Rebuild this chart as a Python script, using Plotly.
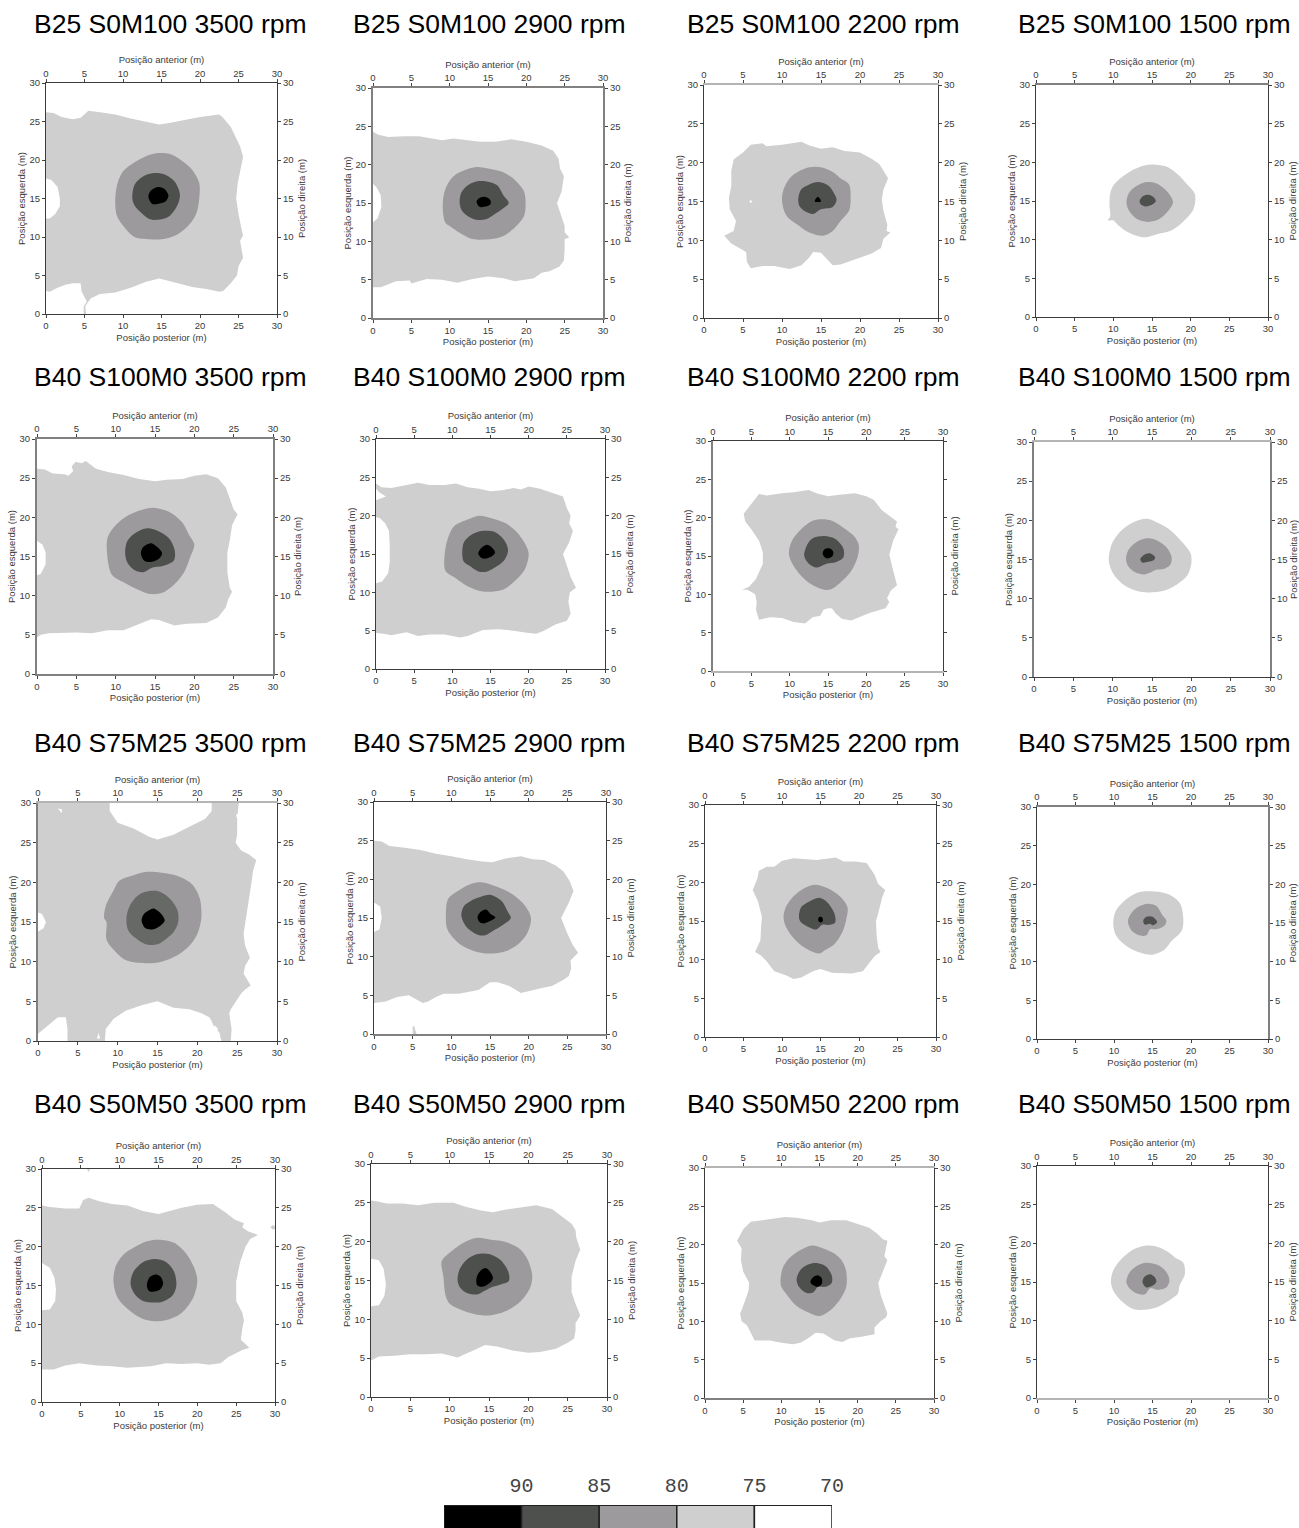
import plotly.graph_objects as go

W, H = 1299, 1528
LEVEL_COLORS = {75: "#cfcfcf", 80: "#9c9a9c", 85: "#4d504d", 90: "#000000"}
LEGEND_LABELS = ["90", "85", "80", "75", "70"]
LEGEND_COLORS = ["#000000", "#4d504d", "#9c9a9c", "#cfcfcf", "#ffffff"]
TICKS = [0, 5, 10, 15, 20, 25, 30]
TITLES = [
    "B25 S0M100 3500 rpm", "B25 S0M100 2900 rpm", "B25 S0M100 2200 rpm", "B25 S0M100 1500 rpm",
    "B40 S100M0 3500 rpm", "B40 S100M0 2900 rpm", "B40 S100M0 2200 rpm", "B40 S100M0 1500 rpm",
    "B40 S75M25 3500 rpm", "B40 S75M25 2900 rpm", "B40 S75M25 2200 rpm", "B40 S75M25 1500 rpm",
    "B40 S50M50 3500 rpm", "B40 S50M50 2900 rpm", "B40 S50M50 2200 rpm", "B40 S50M50 1500 rpm",
]

# ---- contour outlines, in metres (x, y) ----
p11_75 = [(0,26.2),(1,26.1),(2,25.6),(3.5,25.3),(4.5,25.5),(5.5,26.4),(7,26.2),(9,25.9),(11,25.4),(13,25),(14.7,24.6),(16,24.8),(18,25.2),(20,25.6),(22.5,25.9),(23,25.5),(24,24.3),(24.8,22.5),(25.2,21.8),(25.6,20.4),(25.3,18.8),(24.9,17),(24.7,15),(25,13),(25.4,11),(25.6,10.2),(25.2,9.5),(25.6,7.3),(25,6.2),(24.8,5),(24,4),(23,3),(22.5,2.9),(21,3.2),(19,3.5),(17,4),(14.7,4.6),(13,4.2),(11,3.4),(9,2.8),(7,2.6),(5.8,2),(5.4,1.5),(5.1,1.0),(5.2,0),(4.9,0),(4.9,1),(5.3,1.6),(4.6,3),(4.5,4),(3.5,4),(2.5,3.8),(1.5,3.4),(0.5,2.9),(0,3.0),(0,12.4),(0.5,12.4),(1.2,13),(1.8,14),(1.8,15),(1.5,16.5),(0.7,17.4),(0,17.6)]
p11_80 = [(9,15),(9.3,17),(10,18.5),(11.5,19.7),(13,20.5),(14.5,20.9),(16,20.8),(17.5,20),(19,18.7),(19.9,17),(19.9,15),(19.5,13),(18.5,11.5),(17,10.3),(15,9.7),(13.5,9.7),(11.5,10),(10,11.5),(9.2,12.8)]
p11_85 = [(11.2,15.2),(11.5,16.8),(12.5,17.8),(14,18.3),(15.5,18.1),(16.7,17.2),(17.4,15.5),(17,14),(16,12.7),(15,12.3),(13.5,12.3),(12.2,13.3),(11.4,14.3)]
p11_90 = [(13.3,15.2),(13.6,16),(14.5,16.5),(15.3,16.3),(15.9,15.4),(15.5,14.6),(14.5,14.3),(13.8,14.3)]

p12_75 = [(0,24.3),(0.7,23.9),(2,23.6),(4,23.7),(6,23.7),(7,23.5),(9,23.2),(10.5,23.4),(12,23.2),(14,23),(16,23),(18,23.3),(20,23),(22,22.5),(23.5,21.8),(24.2,20.8),(24.4,19.5),(24.9,18.5),(24.6,16.5),(24,15),(24.5,13.5),(25,12),(25,11.2),(25.6,10.5),(25,10.3),(25,9),(24.9,7.5),(24.3,6.7),(23,6.1),(22,5.9),(21,5.2),(19.5,5),(18.5,4.8),(17,5.2),(15,5.4),(13,5.1),(11,4.6),(9,5),(7,5.1),(5,4.5),(4.8,4.9),(3,4.8),(2,4.4),(1,4),(0,4),(0,12.5),(0.6,13),(1.1,14.5),(1,16),(0.5,17),(0,17.5)]
p12_80 = [(9.1,15),(9.5,17),(10.5,18.5),(12,19.3),(13.5,19.7),(15,19.5),(17,19),(18.5,18),(19.7,16.5),(19.9,15),(19.7,13.3),(18.5,11.8),(17,10.7),(15.5,10.3),(13,10.3),(11.5,11),(10,12),(9.4,12.5)]
p12_85 = [(11.3,15.2),(11.5,16.3),(12.2,17.2),(13.5,17.8),(14.8,17.8),(16.2,17.3),(17,16),(17.7,15),(17,14.3),(15.8,13.5),(14.8,12.9),(13.5,12.8),(12.2,13.4),(11.5,14.2)]
p12_90 = [(13.5,15.2),(13.8,15.6),(14.5,15.8),(15.3,15.4),(15.3,14.8),(14.5,14.5),(13.9,14.5)]

p13_75 = [(3.5,19),(3.8,20.4),(5,21.3),(6,22.3),(7.5,22.5),(8,22.1),(10,22.3),(12.5,22.7),(13.5,22.2),(15,21.8),(16.5,22),(18,21.5),(20,21.3),(21.5,20.5),(22.5,19.8),(23,19),(23.6,18),(23,16.5),(22.8,15.3),(23,13.8),(23.5,12),(23.4,11.2),(23.9,11),(23,10.2),(22.7,9),(21.5,8.3),(20,7.8),(18.8,7.3),(17.5,6.9),(16.5,6.8),(15.8,7.5),(15,8.4),(14,8.5),(13.5,7.8),(12.5,6.8),(11,6.3),(9,6.7),(7.5,6.7),(6,6.4),(5.5,7.2),(5.4,8.5),(4.5,9),(3.5,9.6),(2.6,10.6),(3.8,11.2),(4.1,12.5),(3.3,14),(3.2,15.5),(3.5,17),(3.5,18)]
p13_80 = [(10,15.5),(10.3,16.8),(11,18),(12,18.8),(13.5,19.4),(15,19.4),(16.5,18.8),(17.5,18),(18.6,17.2),(18.8,15.5),(18.6,13.8),(17.5,12.5),(16.5,11.2),(15.3,10.6),(13.5,11),(12,12),(10.7,13),(10.2,14)]
p13_85 = [(12.1,15.5),(12.5,16.6),(13.5,17.2),(14.7,17.5),(16,17),(16.7,16),(17,15.2),(16.5,14.3),(15,14),(14,13.4),(13,13.7),(12.2,14.5)]
p13_90 = [(14.2,15.0),(14.6,15.6),(15,15.0)]
p13_hole = [(5.8,15),(6,15.2),(6.2,15),(6,14.8)]

p14_75 = [(9.5,14.5),(9.6,16),(10,17),(11,18),(12.5,19),(14,19.6),(15.5,19.7),(17,19.4),(18.5,18.3),(19.5,17.2),(20.5,16),(20.6,15),(20.3,13.8),(19,12.3),(17.5,11.2),(16,10.8),(14,10.3),(13,10.5),(11.5,11.2),(10.5,12),(10,12.5),(9.3,12.5),(9.6,13)]
p14_80 = [(11.7,14.8),(12,16),(12.8,16.8),(14,17.4),(15.5,17.3),(16.7,16.5),(17.6,15.3),(17.7,14.7),(17,13.6),(16,12.7),(14.5,12.3),(13,12.7),(12,13.8)]
p14_85 = [(13.4,15),(13.8,15.6),(14.5,15.8),(15.2,15.5),(15.5,15),(15,14.5),(14.2,14.3),(13.6,14.5)]

p21_75 = [(0,26.2),(1,26.1),(2,25.6),(3.5,25.5),(4,25.3),(4.6,25.9),(4.4,26.5),(4.9,27.1),(5.7,26.9),(6.2,27.2),(7.5,26.2),(9,25.8),(11,25.4),(13,24.9),(15,24.6),(16.5,24.8),(18.5,24.9),(20,25.3),(21.5,25.5),(23,25),(24,23.8),(24.5,22.5),(25,21),(25.5,20.4),(24.8,19),(24.5,17),(24.2,15.5),(24.2,13),(24.5,11),(24.8,10.5),(24.3,9.5),(24,8.5),(23,7.2),(21.5,6.5),(20,6.4),(19,6.4),(17.5,6.2),(15.5,6.9),(14.5,7),(13,6.4),(11,5.6),(9,5.6),(7,5.2),(5,5.3),(3,5.2),(1.5,5.2),(0.5,5),(0,4.7),(0,12.6),(0.5,12.8),(1.1,14),(1.1,15.5),(0.7,16.5),(0,17)]
p21_80 = [(8.9,15.5),(9,17.5),(10,19),(11.5,20.2),(13.5,21),(15,21.2),(17,20.6),(18.5,19.3),(19.3,17.8),(20,16.5),(19.5,15),(18.7,13),(17.5,11.5),(16,10.4),(14.5,10.2),(13,10.7),(11,11.7),(9.5,12.7)]
p21_85 = [(11.2,15.5),(11.5,17),(12.5,18),(14,18.6),(15.5,18.2),(16.8,17.3),(17.5,15.8),(17.4,14.5),(16,13.8),(14.7,13.6),(13.5,13),(12.5,13.2),(11.5,14.2)]
p21_90 = [(13.2,15.4),(13.5,16.2),(14.5,16.7),(15.3,16.2),(15.9,15.4),(15.5,14.7),(14.5,14.3),(13.6,14.5)]

p22_75 = [(0,24.2),(0.7,23.7),(2,23.6),(4,24),(5.5,24.3),(7,24),(9,24),(10.5,24.2),(12,23.7),(13.5,23.5),(15,23.2),(16.5,23.3),(18,23.6),(19,23.4),(20,23.8),(21.5,23.5),(23,23),(24.5,22.5),(25,21),(25.5,20),(25.3,19),(25.8,18),(25.3,16.5),(24.5,15),(25,13.5),(25.5,12),(26.2,10.6),(25.4,10),(25.2,8.8),(25.5,7.2),(25,6.3),(23.5,5.8),(22,5),(21,4.6),(20,4.7),(18,5),(16,5.2),(14,5.1),(12,4.3),(11,4.1),(9,4.5),(7,4.5),(5.5,4.3),(4,4.8),(2,4.4),(1,4.6),(0,4.7),(0,11.2),(0.8,11.4),(1.6,12.5),(1.8,14),(1.8,16),(1.7,18),(1.2,19),(0.5,19.7),(0,19.8),(0,22),(1.3,22.5),(0.5,23),(0,23.5)]
p22_80 = [(9,15),(9.4,17),(10.2,18.6),(12,19.5),(13.5,20),(15,19.7),(17,19),(18.5,17.8),(19.7,16),(20,15),(19.5,13),(18,11.3),(16.5,10.3),(14,10.1),(12,10.8),(10.5,11.8),(9.1,12.8)]
p22_85 = [(11.3,15),(11.5,16.5),(12.5,17.5),(13.8,18),(15.5,17.9),(16.8,16.8),(17.3,15.5),(16.8,14.2),(15.5,13.2),(14.5,12.7),(13.5,12.7),(12.2,13.5),(11.5,14)]
p22_90 = [(13.4,15),(13.7,15.7),(14.5,16.2),(15,16),(15.6,15.2),(15,14.6),(14,14.4)]

p23_75 = [(4,20.5),(4.8,21.5),(6,23.1),(7,22.9),(9,23.2),(10.5,23.3),(12.5,23.6),(13.5,23.2),(15,22.8),(16.5,23),(18.5,23.2),(20,22.8),(21,22.3),(22,21),(23,20.3),(24,19.5),(23.8,18.8),(24.2,18.5),(23.5,17),(23,15.2),(23.4,13.5),(24,11.2),(23.2,10.5),(22.7,9.5),(23,9),(22.5,8.2),(20.5,7.6),(19,7),(18,6.6),(16.8,6.8),(16,7.5),(15.5,8.2),(15,8.2),(14.4,8),(14,7.2),(13,7),(12,6.2),(10.5,6.4),(9,6.9),(7.5,7),(6,6.7),(5.6,8),(5.7,9),(5.5,10),(4.5,10.6),(3.8,10.6),(4.7,11),(5.6,12),(6.5,14),(6.5,15.5),(6,17),(5,18.5),(4.2,19.5)]
p23_80 = [(9.9,15.5),(10.3,17),(11.5,18.5),(13,19.6),(14.3,19.8),(15.5,19.6),(17,18.7),(18.3,17.7),(19,16.5),(18.9,15),(18,13),(16.8,11.7),(15.5,10.7),(14.5,10.6),(12.5,11.5),(11,13),(10.1,14.5)]
p23_85 = [(11.9,15),(12.3,16.5),(13,17.3),(14.5,17.6),(16,17.2),(17,16),(17,14.8),(16,14.2),(14.8,14),(13.5,13.5),(12.5,14)]
p23_90 = [(14.3,15.3),(14.6,15.9),(15.2,16),(15.7,15.5),(15.5,14.9),(14.8,14.7)]

p24_75 = [(9.5,15),(9.9,17),(11,18.6),(12.5,19.7),(14.3,20.2),(15.5,19.8),(17,19),(18.5,17.6),(19.9,15.8),(20,14.5),(19.5,13),(18,11.7),(16.5,11),(14.5,10.8),(13,11),(11.5,11.7),(10.2,13),(9.7,14)]
p24_80 = [(11.7,15),(12,16.2),(13,17.2),(14.3,17.7),(15.5,17.5),(16.8,16.6),(17.5,15.3),(17.3,14.3),(16.5,13.8),(15.5,13.7),(14.7,13.3),(14,13.1),(12.8,13.4),(12,14.1)]
p24_85 = [(13.5,15),(14,15.6),(14.7,15.8),(15.4,15.3),(15.2,14.9),(14.5,14.7),(13.8,14.6)]

p31_75 = [(0,30),(9,30),(9,29),(10,27.5),(12,26.8),(14,25.7),(15,25.4),(17,26),(19,27),(21,28),(21.8,29),(21.8,30),(25.2,30),(25,28),(25,26),(24.8,25),(25.5,24),(26.5,23.5),(27.4,22.8),(27,21.5),(26.8,20),(26.5,18),(26,15),(25.8,13.5),(26,12),(26.6,10.5),(26,9.5),(25.8,8.5),(26.7,7),(26,6.5),(25.5,6),(24.8,5),(24.2,4),(24,3.5),(24.3,1.5),(24.2,0),(23,0),(22.8,1),(22,2),(21.8,2.5),(21.5,3),(20.5,3.5),(19,4),(17,4.2),(15,5),(13,4.5),(11,3.8),(9.5,2.8),(8.5,1.5),(8.4,0),(3.7,0),(3.7,1.5),(3.5,3),(2.5,3),(1,1.8),(0,0.9),(0,13.8),(0.7,14.2),(1,15),(0.5,16),(0,16.2)]
p31_80 = [(8.3,15.5),(8.5,17),(9.5,19),(10.2,20.2),(12,20.9),(13.5,21.3),(15.5,21.2),(17.5,20.8),(19.3,19.8),(20.3,18),(20.5,15.5),(20,13.5),(19,12),(17.5,10.8),(15.5,10),(13.5,9.8),(11,10.2),(9.5,11.5),(8.6,12.8),(8.6,15)]
p31_85 = [(11.1,15.5),(11.5,17),(12.5,18.3),(13.5,18.8),(15,18.9),(16.5,18),(17.5,16.5),(17.6,15),(17,13.7),(16,12.8),(15,12.2),(13.5,12.2),(12.2,13),(11.3,14)]
p31_90 = [(13,15.2),(13.3,16),(14,16.5),(14.5,16.7),(15.3,16.2),(15.9,15.2),(15.3,14.5),(14.5,14.1),(13.5,14.2)]
p31_hole_a = [(2.5,29.3),(3,29.2),(3,28.7),(2.7,29)]
p31_hole_b = [(22.2,2),(22.6,1.5),(22.3,0.8),(21.9,1.2)]
p31_hole_c = [(7.4,0.3),(7.6,1),(7.8,0.3)]
p31_hole_d = [(24.9,28.6),(25.3,28.6),(25.2,28.1),(24.9,28.2)]

p32_75 = [(0,25),(1,24.9),(2,24.3),(4,24.1),(6,23.8),(8,23.3),(10,23),(12,22.6),(14,22.3),(15.3,22.2),(17,22.7),(19,23),(20.5,22.6),(22,22.5),(23.5,21.8),(24.5,21),(25.3,19.8),(25.8,18.5),(25.2,17),(24.5,15.5),(24.2,15),(25,13),(25.7,11.5),(26.4,10.5),(25.4,9.5),(25.5,8.5),(25.2,7.5),(24.5,7),(23,6.2),(22,6),(20.5,5.6),(19,5.3),(17.5,6.2),(16,6.7),(15,6.7),(13.5,5.7),(11,5.2),(9,5.2),(8,4.8),(7,4.2),(6.3,4),(5,4.7),(4.5,5),(3,4.8),(1.5,4.2),(0,4),(0,13.2),(0.7,13.5),(1,15),(0.8,16.5),(0,17)]
p32_80 = [(9.3,15.5),(9.6,17.5),(11,18.6),(12.5,19.4),(14,19.6),(16,19),(18,18),(19.6,16.5),(20.3,15),(19.8,13),(18.5,11.5),(17,10.7),(15,10.4),(13,10.7),(11,11.7),(9.5,13.5)]
p32_85 = [(11.3,15.3),(11.6,16.5),(12.5,17.2),(14,17.8),(15,18),(16.5,17.2),(17.3,15.8),(17.7,15),(16.5,14),(15.5,13.4),(14.5,12.8),(13.5,12.8),(12,13.8)]
p32_90 = [(13.4,15.2),(13.8,15.8),(14.5,16.1),(15.1,15.5),(15.7,15.1),(15,14.6),(14.2,14.3),(13.6,14.5)]
p32_isle = [(5,0),(5,1),(5.2,1),(5.5,0)]

p33_75 = [(6.2,19),(6.8,20.5),(7,21.5),(8,22),(9,22),(10,22.8),(11.5,23.1),(13,23),(14.5,22.9),(17,23.2),(18,22.7),(19.5,22.7),(21,22.5),(22,21),(22.5,19.8),(23.4,19),(23,18),(22.5,16),(22.2,15),(22.3,13),(22.5,11.5),(22.8,11),(22.1,10.5),(21.5,9.8),(20.5,8.5),(19,8.2),(17.5,8.3),(16.5,8.3),(15,8.8),(14,8.5),(12.5,7.7),(11.5,7.5),(10.5,8),(9,8.5),(8,9.8),(7.3,10.5),(6.5,11),(7.2,12.5),(7.3,14.5),(7.4,15.5),(6.9,17.5)]
p33_80 = [(10.2,15.5),(10.5,16.8),(11.5,18.2),(13,19.3),(14.3,19.7),(16,19.2),(17.5,18.2),(18.5,16.8),(18.3,15),(17.8,13.5),(16.8,12),(15.5,11.2),(14.8,10.8),(13,11.5),(11.5,12.8),(10.5,14.3)]
p33_85 = [(12.2,15.5),(12.5,16.8),(13.5,17.5),(14.8,18),(15.8,17.5),(16.8,16),(16.9,14.8),(16.2,14.5),(15.2,14.5),(14.5,13.9),(13.5,14.2),(12.5,14.8)]
p33_90 = [(14.7,15.1),(14.8,15.5),(15.2,15.5),(15.3,15),(15,14.8)]

p34_75 = [(9.9,15),(10.2,16.5),(11.5,18),(13,18.9),(14,19.1),(16,19),(17.5,18.5),(18.6,17.5),(19,15.5),(18.8,14),(17.5,12.7),(16.5,11.5),(15,10.9),(14,11),(12.5,11.5),(11,12.5),(10.2,13.5)]
p34_80 = [(11.8,15.2),(12.2,16.2),(13,17),(14.3,17.5),(15.5,17.2),(16.3,16),(16.8,15.3),(16.5,14.6),(15.5,14.2),(14.7,14.2),(14.2,13.4),(13.3,13.4),(12.3,14)]
p34_85 = [(13.8,15.3),(14.2,15.8),(15,15.8),(15.6,15.1),(15,14.7),(14.7,14.9),(14,14.8)]

p41_75 = [(0,25.3),(1,25.1),(3,24.9),(4.8,24.9),(5.3,26),(6,26.3),(7.5,25.8),(9,25.5),(11,25.3),(13,24.6),(15,24.2),(16.5,24.6),(18,25),(20,25.4),(22,25.5),(23.5,24.5),(24.8,23.5),(26,23),(25.8,22.5),(26.5,22),(27.8,21.5),(26.8,21),(26.2,20),(25.5,18),(25,15.5),(25,13),(25.8,11.5),(26,10.5),(25.8,9.5),(25.6,8),(26.7,7),(25.8,6.7),(24,5.8),(23,5),(21.5,4.8),(20,5),(18,4.9),(16,5),(14,4.6),(11,4.4),(9,4.6),(7,4.7),(5,4.9),(4.8,5),(3,4.7),(1.5,4.2),(0,4.2),(0,11.8),(1,11.9),(1.7,13),(1.8,14.5),(1.6,16),(1,17.3),(0,17.9)]
p41_80 = [(9.2,15.5),(9.5,17.5),(10.5,19),(12,20),(13.5,20.7),(15,20.9),(17,20.5),(18.5,19.2),(19.5,17.5),(20,15.7),(19.5,13.5),(18,11.5),(16.5,10.7),(15,10.4),(13,10.7),(11,12),(9.7,13.5)]
p41_85 = [(11.4,15.2),(11.8,16.8),(13,18),(14.5,18.4),(16,18),(17,16.8),(17.3,15),(16.8,13.7),(15.5,12.9),(14.5,12.8),(13,13),(12,13.8)]
p41_90 = [(13.5,15),(13.8,16),(14.5,16.4),(15.2,16.2),(15.6,15.3),(15.2,14.5),(14,14.2),(13.7,14.4)]
p41_isle_a = [(5.8,30),(6,29.6),(6.2,30)]
p41_isle_b = [(29.4,22.5),(29.7,22.8),(30,22.6),(30,22.3),(29.7,22.2)]

p42_75 = [(0,25.3),(0.7,25.2),(2,24.9),(4,24.9),(6,24.7),(8,25),(10.5,25),(12,24.5),(14,24),(15.5,23.8),(17,24.1),(19,24.4),(21,24.7),(23,24.2),(24.5,23),(25.5,22.3),(26,21.5),(26.1,20.5),(26.6,19),(26,17.5),(25.5,15.5),(25.5,13.5),(26,12),(26.6,10.5),(26,9.5),(26,8.5),(25.8,7.5),(25,7),(23.5,6.2),(21.5,5.8),(20,5.7),(18,6),(16,6.5),(14.5,6.7),(13,6),(11,5.1),(9,5.6),(7,5.5),(5,5.5),(3,5.3),(1,5.2),(0,4.7),(0,11.7),(1,11.8),(1.7,13),(1.9,14.5),(1.6,16.5),(1,17.6),(0,17.8)]
p42_80 = [(9,17.5),(9.2,15.5),(9.5,13),(10,12),(12,11),(13.5,10.6),(15,10.5),(17,11),(19,12.3),(20.2,14),(20.5,15.5),(20,17.5),(19,19),(17,20),(15.5,20.2),(13.5,20.5),(12,20),(10.5,19)]
p42_85 = [(11,15.2),(11.3,16.5),(12.2,17.7),(13.5,18.4),(15,18.4),(16.5,17.6),(17.5,16),(17.5,14.9),(16.5,14.5),(15.5,14.2),(14.5,13.7),(13.5,13.2),(12,13.5),(11.2,14.3)]
p42_90 = [(13.4,15.2),(13.7,16),(14.5,16.6),(15.1,16.2),(15.5,15.3),(15,14.6),(14.2,14.2),(13.5,14.4)]

p43_75 = [(4.2,20.5),(5,22),(6,23),(7.5,23.2),(9,23.4),(10.5,23.6),(12,23.5),(14,23.2),(15,22.9),(16.5,23.2),(18.5,23.2),(20,22.7),(21.5,22.2),(22.5,21.5),(23.3,20.7),(23.9,20.5),(23.5,18.5),(23.9,18),(23.3,16.5),(22.7,15),(23,13.5),(23.5,12),(23.9,11),(23.7,10.5),(23,10),(22.2,9.2),(22.2,8.3),(20.5,8),(19,7.8),(18,7.3),(17,7.5),(15.5,8.4),(14.5,8.5),(13.5,7.8),(12.5,7.2),(11.5,7),(10,7.2),(8.5,7.5),(6.5,7.5),(6,8.5),(5.5,9.5),(4.8,10),(4.6,11),(5,12),(5.7,14),(5.8,15),(5,16.5),(4.7,18),(4.8,19.5)]
p43_80 = [(9.9,15.5),(10.2,17),(11,18.2),(12.5,19.3),(14,19.9),(15.5,19.5),(17,18.8),(18,17.8),(18.5,16.5),(18.5,14.5),(17.8,13),(16.5,11.5),(15,10.7),(13.5,11.2),(12,12),(10.7,13.5),(10,14.5)]
p43_85 = [(12,15.5),(12.5,16.7),(13.5,17.4),(14.5,17.6),(15.8,17.2),(16.6,16),(16.6,15),(15.8,14.5),(14.8,14.5),(14.2,13.8),(13.3,13.7),(12.3,14.5)]
p43_90 = [(13.8,15.1),(14.1,15.7),(14.8,16),(15.3,15.6),(15.3,14.9),(14.8,14.5),(14.2,14.7)]

p44_75 = [(9.6,15),(9.9,16.5),(11,18),(12.5,19.2),(14,19.7),(15.5,19.6),(17,18.9),(18,18.1),(19,17.5),(19.2,16),(18.5,14.5),(18.3,13.5),(17,12.5),(15.5,11.7),(14,11.4),(12.5,11.5),(11,12.5),(10,13.7)]
p44_80 = [(11.6,15),(12,16.2),(13,17.1),(14.2,17.5),(15.7,17.2),(16.8,16.3),(17.2,15.2),(16.8,14.3),(15.5,14),(14.7,14.2),(14,13.4),(13,13.5),(12,14.2)]
p44_85 = [(13.7,15),(14,15.7),(14.7,16),(15.3,15.6),(15.5,15),(15,14.5),(14.2,14.3)]

# each panel: (colour key, outline) in drawing order
PANELS = [
    [(75,p11_75),(80,p11_80),(85,p11_85),(90,p11_90)],
    [(75,p12_75),(80,p12_80),(85,p12_85),(90,p12_90)],
    [(75,p13_75),(0,p13_hole),(80,p13_80),(85,p13_85),(90,p13_90)],
    [(76,p14_75),(80,p14_80),(85,p14_85)],
    [(75,p21_75),(80,p21_80),(85,p21_85),(90,p21_90)],
    [(75,p22_75),(80,p22_80),(85,p22_85),(90,p22_90)],
    [(75,p23_75),(80,p23_80),(85,p23_85),(90,p23_90)],
    [(76,p24_75),(80,p24_80),(85,p24_85)],
    [(75,p31_75),(0,p31_hole_a),(0,p31_hole_b),(0,p31_hole_c),(0,p31_hole_d),(80,p31_80),(86,p31_85),(90,p31_90)],
    [(75,p32_75),(75,p32_isle),(80,p32_80),(85,p32_85),(90,p32_90)],
    [(75,p33_75),(80,p33_80),(85,p33_85),(90,p33_90)],
    [(76,p34_75),(80,p34_80),(85,p34_85)],
    [(75,p41_75),(75,p41_isle_a),(75,p41_isle_b),(80,p41_80),(85,p41_85),(90,p41_90)],
    [(75,p42_75),(80,p42_80),(85,p42_85),(90,p42_90)],
    [(75,p43_75),(80,p43_80),(85,p43_85),(90,p43_90)],
    [(76,p44_75),(80,p44_80),(85,p44_85)],
]
COLORS = dict(LEVEL_COLORS)
COLORS[0] = "#ffffff"
COLORS[76] = "#cfcfcf"  # same grey, smooth edge
COLORS[86] = "#666966"  # the one lighter dark ring
SMOOTH = {76, 80, 85, 86, 90}

# plot boxes in page pixels: left, right, top, bottom
BOXES = [
    (46,277,83,314), (373,603,88,318), (704,938,85,318), (1036,1268,85,317),
    (37,273,439,674), (376,605,439,669), (713,943,441,671), (1034,1270,442,677),
    (38,277,803,1041), (374,606,802,1034), (705,936,805,1037), (1037,1268,807,1039),
    (42,275,1169,1402), (371,607,1164,1397), (705,934,1168,1398), (1037,1268,1166,1398),
]
# line colours: bottom, top, left, right
DK, MD, LT = "#3c3c3c", "#808080", "#b4b4b4"
SIDES = [
    (DK,DK,DK,DK), (MD,MD,MD,MD), (DK,LT,DK,DK), (DK,MD,DK,DK),
    (MD,MD,MD,MD), (DK,DK,DK,DK), (LT,DK,MD,DK), (DK,LT,MD,MD),
    (DK,LT,MD,DK), (MD,DK,DK,DK), (DK,DK,DK,DK), (DK,MD,DK,MD),
    (DK,DK,DK,DK), (DK,DK,DK,DK), (MD,LT,DK,DK), (LT,DK,DK,DK),
]
BOTTOM_TITLES = ["Posição posterior (m)"] * 15 + ["Posição Posterior (m)"]
TITLE_CENTERS_X = [170, 490, 823, 1154]
TITLE_CENTERS_Y = [24, 377, 743, 1104]
NO_RIGHT_LABELS = {6}

FONT = "Liberation Sans"
tick_font = dict(family=FONT, size=9.5, color="#3a3a3a")
title_font = dict(family=FONT, size=9.5, color="#3a3a3a")

fx = lambda px: px / W
fy = lambda py: 1 - py / H

fig = go.Figure()
layout = {}
annotations = []

for i, box in enumerate(BOXES):
    l, r, t, b = box
    dx = [fx(l), fx(r)]
    dy = [fy(b), fy(t)]
    xb, xt = 2 * i + 1, 2 * i + 2
    cb, ct, cl, cr = SIDES[i]
    common = dict(range=[0, 30], tickmode="array", tickvals=TICKS, ticks="outside", ticklen=3,
                  tickwidth=1, tickcolor="#444444", showgrid=False, zeroline=False, showline=True,
                  tickfont=tick_font, tickangle=0, automargin=False)
    wid = lambda c: 2 if c != DK else 1
    layout[f"xaxis{xb}"] = dict(common, domain=dx, anchor=f"y{xb}", side="bottom", linecolor=cb, linewidth=wid(cb),
                                title=dict(text=BOTTOM_TITLES[i], font=title_font, standoff=3))
    layout[f"yaxis{xb}"] = dict(common, domain=dy, anchor=f"x{xb}", side="left", linecolor=cl, linewidth=wid(cl),
                                title=dict(text="Posição esquerda (m)", font=title_font, standoff=2))
    layout[f"xaxis{xt}"] = dict(common, domain=dx, anchor=f"y{xt}", side="top", overlaying=f"x{xb}", linecolor=ct, linewidth=wid(ct),
                                ticklabelstandoff=-2,
                                title=dict(text="Posição anterior (m)", font=title_font, standoff=2))
    right = dict(common, domain=dy, anchor=f"x{xt}", side="right", overlaying=f"y{xb}", linecolor=cr, linewidth=wid(cr),
                 title=dict(text="Posição direita (m)", font=title_font, standoff=5))
    if i in NO_RIGHT_LABELS:
        right["showticklabels"] = False
        right["title"]["standoff"] = 5
    layout[f"yaxis{xt}"] = right

    for level, outline in PANELS[i]:
        xs = [p[0] for p in outline] + [outline[0][0]]
        ys = [p[1] for p in outline] + [outline[0][1]]
        shape = "spline" if level in SMOOTH else "linear"
        fig.add_trace(go.Scatter(x=xs, y=ys, mode="lines", fill="toself", fillcolor=COLORS[level],
                                 line=dict(width=0, color=COLORS[level], shape=shape, smoothing=0.9),
                                 hoverinfo="skip", showlegend=False, xaxis=f"x{xb}", yaxis=f"y{xb}"))
    fig.add_trace(go.Scatter(x=[None], y=[None], mode="lines", hoverinfo="skip", showlegend=False,
                             xaxis=f"x{xt}", yaxis=f"y{xt}"))
    annotations.append(dict(text=TITLES[i], xref="paper", yref="paper", showarrow=False,
                            x=fx(TITLE_CENTERS_X[i % 4]), y=fy(TITLE_CENTERS_Y[i // 4]),
                            xanchor="center", yanchor="middle",
                            font=dict(family=FONT, size=26.5, color="#000000")))

# colour key along the bottom edge
lx = 33
fig.add_trace(go.Bar(x=[0.5, 1.5, 2.5, 3.5, 4.5], y=[1, 1, 1, 1, 1], width=1,
                     marker=dict(color=LEGEND_COLORS, line=dict(color="#222222", width=1.5)),
                     hoverinfo="skip", showlegend=False, xaxis=f"x{lx}", yaxis=f"y{lx}"))
layout[f"xaxis{lx}"] = dict(domain=[fx(444), fx(832)], range=[0, 5], anchor=f"y{lx}", side="top", tickmode="array",
                            tickvals=[1, 2, 3, 4, 5], ticktext=LEGEND_LABELS, ticks="outside", ticklen=4,
                            tickcolor="rgba(0,0,0,0)", showgrid=False, zeroline=False, showline=False,
                            automargin=False, tickfont=dict(family="Liberation Mono", size=20, color="#444444"))
layout[f"yaxis{lx}"] = dict(domain=[0, fy(1505)], range=[0.1, 1.01], anchor=f"x{lx}", visible=False, automargin=False)

fig.update_layout(width=W, height=H, margin=dict(l=0, r=0, t=0, b=0), autosize=False,
                  paper_bgcolor="#ffffff", plot_bgcolor="rgba(0,0,0,0)", showlegend=False,
                  annotations=annotations, **layout)
fig.write_html("out.html", config=dict(displayModeBar=False),
               post_script="document.body.style.margin='0';document.body.style.overflow='hidden';")
